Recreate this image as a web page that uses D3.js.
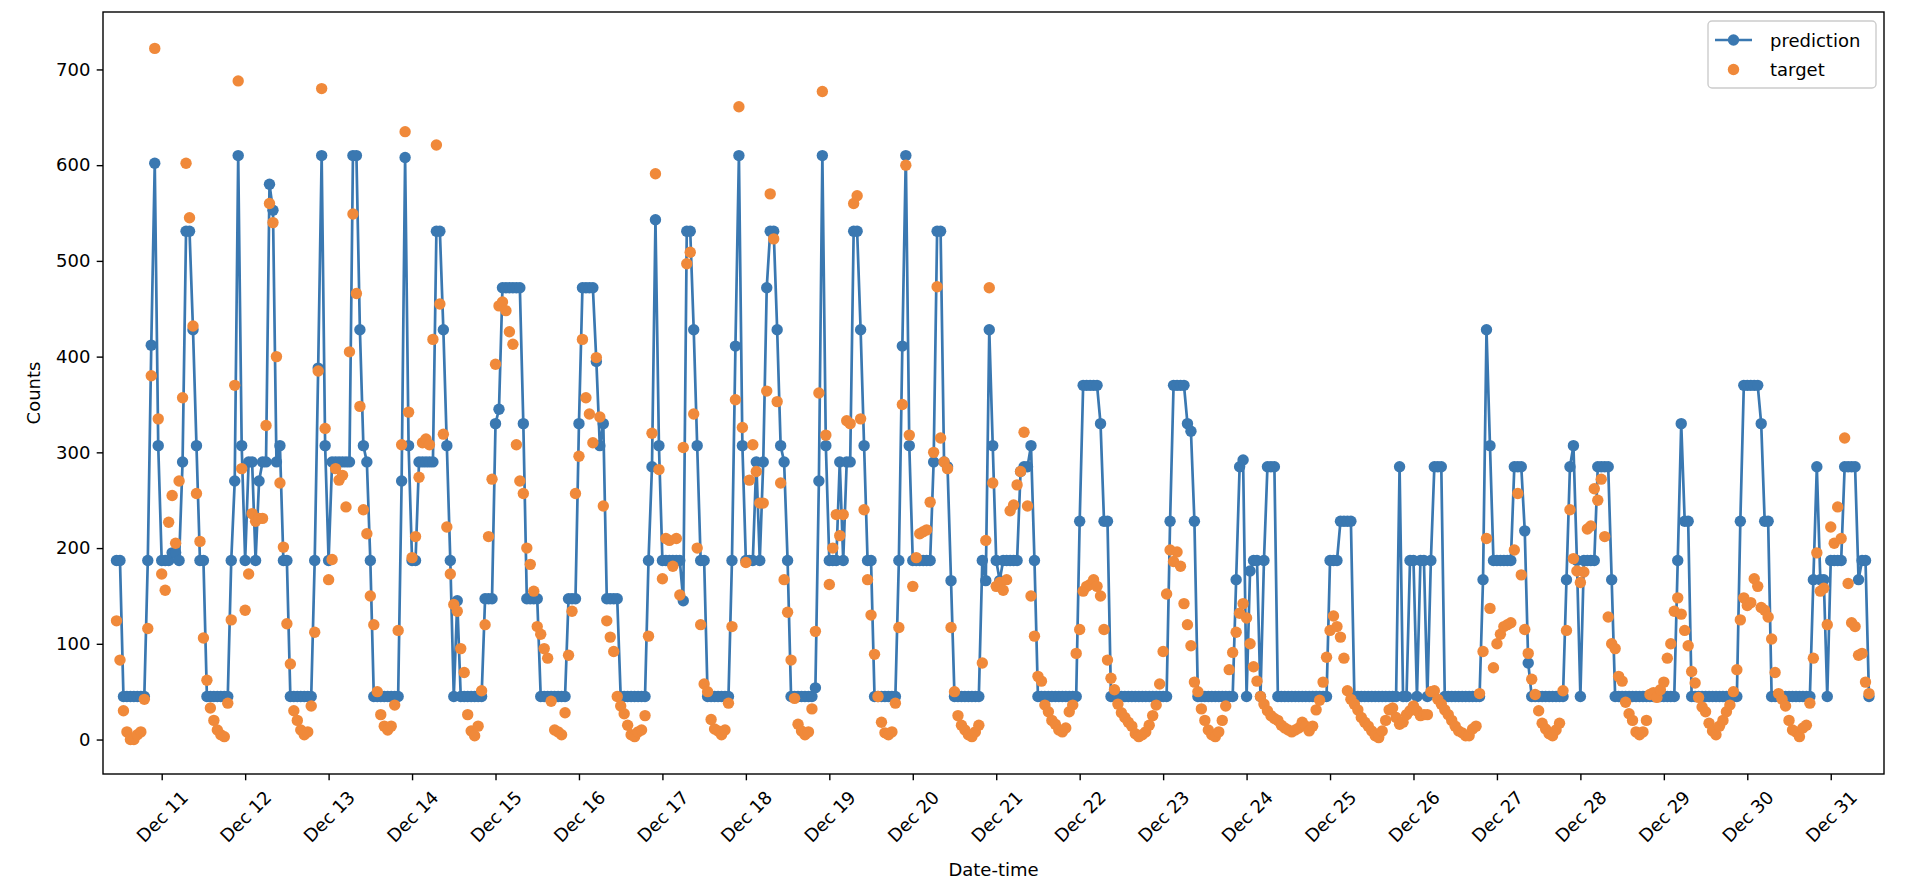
<!DOCTYPE html>
<html>
<head>
<meta charset="utf-8">
<script src="https://cdn.jsdelivr.net/npm/d3@7"></script>
<style>
  body { margin: 0; background: #ffffff; }
  svg text { font-family: "DejaVu Sans", sans-serif; fill: #000; }
</style>
</head>
<body>
<svg id="chart" width="1906" height="896"></svg>
<script>
// ---------------- DATA (hourly samples, first sample = 2018-12-10 11:00) ----------------
const firstSample = Date.UTC(2018, 11, 10, 11);
const dayLabels = ["Dec 10","Dec 11","Dec 12","Dec 13","Dec 14","Dec 15","Dec 16","Dec 17","Dec 18","Dec 19","Dec 20",
                   "Dec 21","Dec 22","Dec 23","Dec 24","Dec 25","Dec 26","Dec 27","Dec 28","Dec 29","Dec 30","Dec 31"];

// prediction per day (Dec 10 starts at 11:00, Dec 31 ends at 11:00)
const predictionByDay = [
  [187,187,45,45,45,45,45,45,45,187,412,602,307],
  [187,187,187,195,195,187,290,531,531,428,307,187,187,45,45,45,45,45,45,45,187,270,610,307],
  [187,290,290,187,270,290,290,580,553,290,307,187,187,45,45,45,45,45,45,45,187,388,610,307],
  [187,290,290,290,290,290,290,610,610,428,307,290,187,45,45,45,45,45,45,45,45,270,608,307],
  [187,187,290,290,290,290,290,531,531,428,307,187,45,145,45,45,45,45,45,45,45,147,147,147],
  [330,345,472,472,472,472,472,472,330,147,147,147,147,45,45,45,45,45,45,45,45,147,147,147],
  [330,472,472,472,472,395,307,330,147,147,147,147,45,45,45,45,45,45,45,45,187,285,543,307],
  [187,187,187,187,187,187,145,531,531,428,307,187,187,45,45,45,45,45,45,45,187,411,610,307],
  [187,187,187,290,187,290,472,531,531,428,307,290,187,45,45,45,45,45,45,45,54,270,610,307],
  [187,187,187,290,187,290,290,531,531,428,307,187,187,45,45,45,45,45,45,45,187,411,610,307],
  [187,187,187,187,187,187,290,531,531,290,285,166,45,45,45,45,45,45,45,45,187,166,428,307],
  [187,166,187,187,187,187,187,280,285,285,307,187,45,45,45,45,45,45,45,45,45,45,45,45],
  [228,370,370,370,370,370,330,228,228,45,45,45,45,45,45,45,45,45,45,45,45,45,45,45],
  [45,45,228,370,370,370,370,330,322,228,45,45,45,45,45,45,45,45,45,45,45,167,285,292],
  [45,176,187,187,45,187,285,285,285,45,45,45,45,45,45,45,45,45,45,45,45,45,45,45],
  [187,187,187,228,228,228,228,45,45,45,45,45,45,45,45,45,45,45,45,45,285,45,45,187],
  [187,45,187,187,45,187,285,285,285,45,45,45,45,45,45,45,45,45,45,45,167,428,307,187],
  [187,187,187,187,187,285,285,285,218,80,45,45,45,45,45,45,45,45,45,45,167,285,307,187],
  [45,187,187,187,187,285,285,285,285,167,45,45,45,45,45,45,45,45,45,45,45,45,45,45],
  [45,45,45,45,187,330,228,228,45,45,45,45,45,45,45,45,45,45,45,45,45,45,228,370],
  [370,370,370,370,330,228,228,45,45,45,45,45,45,45,45,45,45,45,45,167,285,167,167,45],
  [187,187,187,187,285,285,285,285,167,187,187,45]
];

// target per day
const targetByDay = [
  [124,83,30,8,0,0,5,8,42,116,380,722,335],
  [173,156,227,255,205,270,357,602,545,432,257,207,106,62,33,20,10,5,3,38,125,370,688,283],
  [135,173,236,228,231,231,328,560,540,400,268,201,121,79,30,20,10,5,8,35,112,385,680,325],
  [167,188,283,271,276,243,405,549,466,348,240,215,150,120,50,26,14,10,14,36,114,308,635,342],
  [190,212,274,310,314,308,418,621,455,319,222,173,141,134,95,70,26,9,4,14,51,120,212,272],
  [392,453,457,448,426,413,308,270,257,200,183,155,118,110,95,85,40,10,8,5,28,88,134,257],
  [296,418,357,340,310,399,337,244,124,107,92,45,35,27,15,5,3,8,10,25,108,320,591,282],
  [168,210,208,181,210,151,305,497,509,340,200,120,58,50,21,11,9,5,10,38,118,355,661,326],
  [185,271,308,280,247,247,364,570,523,353,268,167,133,83,43,16,9,5,8,32,113,362,677,318],
  [162,200,235,213,235,333,330,560,568,335,240,167,130,89,45,18,7,5,8,38,117,350,600,318],
  [160,190,215,217,219,248,300,473,315,290,283,117,50,25,15,10,5,3,8,15,80,208,472,268],
  [160,164,156,167,239,245,266,280,321,244,150,108,66,61,36,29,20,16,10,8,12,29,36,90],
  [115,155,160,162,167,160,150,115,83,64,52,37,28,23,18,14,6,3,5,8,15,25,36,58],
  [92,152,198,186,196,181,142,120,98,60,50,32,20,10,5,3,8,20,35,73,91,112,132,142],
  [127,100,76,61,45,37,30,25,22,20,15,12,10,8,10,12,18,14,9,14,31,41,60,86],
  [114,129,118,107,85,51,42,37,31,23,18,14,9,4,2,9,20,31,33,23,16,18,26,30],
  [35,30,25,26,26,50,51,42,37,31,26,20,14,9,7,4,4,11,14,48,92,210,137,75],
  [100,110,118,120,122,198,257,172,115,90,63,47,30,17,11,6,4,10,17,51,114,240,189,176],
  [164,175,220,223,262,250,272,212,128,100,95,66,61,39,27,20,8,5,8,20,47,49,44,52],
  [60,85,100,134,148,131,114,98,71,59,44,34,29,17,9,5,14,20,29,36,50,73,125,148],
  [140,143,168,160,138,135,128,105,70,48,42,35,20,10,8,3,12,15,38,85,195,155,158,120],
  [222,205,243,210,315,163,122,118,88,90,60,48]
];

const yTickValues = [0, 100, 200, 300, 400, 500, 600, 700];
const seriesNames = ["prediction", "target"];
const axisTitles = { x: "Date-time", y: "Counts" };

// ---------------- CHART ----------------
const W = 1906, H = 896;
const plot = { left: 103, right: 1884, top: 12, bottom: 774 };
const blue = "#3a78b1", orange = "#f0893a";
const fs = 18;
const markerR = 5.7;

const hour = 3600e3;
const pred = predictionByDay.flat();
const targ = targetByDay.flat();
const points = pred.map((p, i) => ({ t: new Date(firstSample + i * hour), p: p, y: targ[i] }));

const x = d3.scaleUtc()
  .domain([new Date(Date.UTC(2018, 11, 10, 7, 7)), new Date(Date.UTC(2018, 11, 31, 15, 19))])
  .range([plot.left, plot.right]);
const y = d3.scaleLinear().domain([-36, 760]).range([plot.bottom, plot.top]);

const svg = d3.select("#chart");
svg.append("rect").attr("width", W).attr("height", H).attr("fill", "#fff");

const clipId = "plotclip";
svg.append("clipPath").attr("id", clipId).append("rect")
  .attr("x", plot.left).attr("y", plot.top)
  .attr("width", plot.right - plot.left).attr("height", plot.bottom - plot.top);

const g = svg.append("g").attr("clip-path", `url(#${clipId})`);

// prediction line + markers
g.append("path").datum(points)
  .attr("fill", "none").attr("stroke", blue).attr("stroke-width", 2.7)
  .attr("stroke-linejoin", "round")
  .attr("d", d3.line().x(d => x(d.t)).y(d => y(d.p)));
g.append("g").selectAll("circle").data(points).join("circle")
  .attr("cx", d => x(d.t)).attr("cy", d => y(d.p)).attr("r", markerR).attr("fill", blue);

// target markers
g.append("g").selectAll("circle").data(points).join("circle")
  .attr("cx", d => x(d.t)).attr("cy", d => y(d.y)).attr("r", markerR).attr("fill", orange);

// y axis
const yAxis = svg.append("g").attr("transform", `translate(${plot.left},0)`)
  .call(d3.axisLeft(y).tickValues(yTickValues).tickSize(6.3).tickPadding(6.3).tickSizeOuter(0));
yAxis.select(".domain").remove();
yAxis.selectAll("line").attr("stroke", "#000").attr("stroke-width", 1.4);
yAxis.selectAll("text").attr("font-size", fs).attr("font-family", "DejaVu Sans").attr("fill", "#000");

// x axis
const xAxis = svg.append("g").attr("transform", `translate(0,${plot.bottom})`)
  .call(d3.axisBottom(x).ticks(d3.utcDay.every(1)).tickFormat(d3.utcFormat("%b %d")).tickSize(6.3).tickSizeOuter(0));
xAxis.select(".domain").remove();
xAxis.selectAll("line").attr("stroke", "#000").attr("stroke-width", 1.4);
xAxis.selectAll(".tick text").each(function () {
  const t = d3.select(this);
  t.attr("font-size", fs).attr("font-family", "DejaVu Sans").attr("fill", "#000");
  const L = this.getComputedTextLength();
  const Hh = 1.164 * fs;
  const half = (L + Hh) * 0.7071 / 2;
  t.attr("y", null).attr("dy", null)
   .attr("text-anchor", "middle").attr("dominant-baseline", "central")
   .attr("transform", `translate(0,${6.3 + 6.3 + half}) rotate(-45)`);
});

// frame
svg.append("rect")
  .attr("x", plot.left).attr("y", plot.top)
  .attr("width", plot.right - plot.left).attr("height", plot.bottom - plot.top)
  .attr("fill", "none").attr("stroke", "#000").attr("stroke-width", 1.4);

// axis titles
svg.append("text").attr("x", (plot.left + plot.right) / 2).attr("y", 869)
  .attr("text-anchor", "middle").attr("dominant-baseline", "central")
  .attr("font-size", fs).text(axisTitles.x);
svg.append("text").attr("transform", `translate(33,${(plot.top + plot.bottom) / 2}) rotate(-90)`)
  .attr("text-anchor", "middle").attr("dominant-baseline", "central")
  .attr("font-size", fs).text(axisTitles.y);

// legend
const lg = svg.append("g");
lg.append("rect").attr("x", 1708).attr("y", 21).attr("width", 168).attr("height", 67)
  .attr("rx", 4).attr("fill", "#fff").attr("fill-opacity", 0.8)
  .attr("stroke", "#cccccc").attr("stroke-width", 1.4);
const rows = [
  { name: seriesNames[0], color: blue, line: true, cy: 40 },
  { name: seriesNames[1], color: orange, line: false, cy: 69.5 }
];
rows.forEach(r => {
  if (r.line) {
    lg.append("line").attr("x1", 1715).attr("x2", 1752).attr("y1", r.cy).attr("y2", r.cy)
      .attr("stroke", r.color).attr("stroke-width", 2.7);
  }
  lg.append("circle").attr("cx", 1733.5).attr("cy", r.cy).attr("r", markerR).attr("fill", r.color);
  lg.append("text").attr("x", 1770).attr("y", r.cy).attr("dominant-baseline", "central")
    .attr("font-size", fs).text(r.name);
});
</script>
</body>
</html>
